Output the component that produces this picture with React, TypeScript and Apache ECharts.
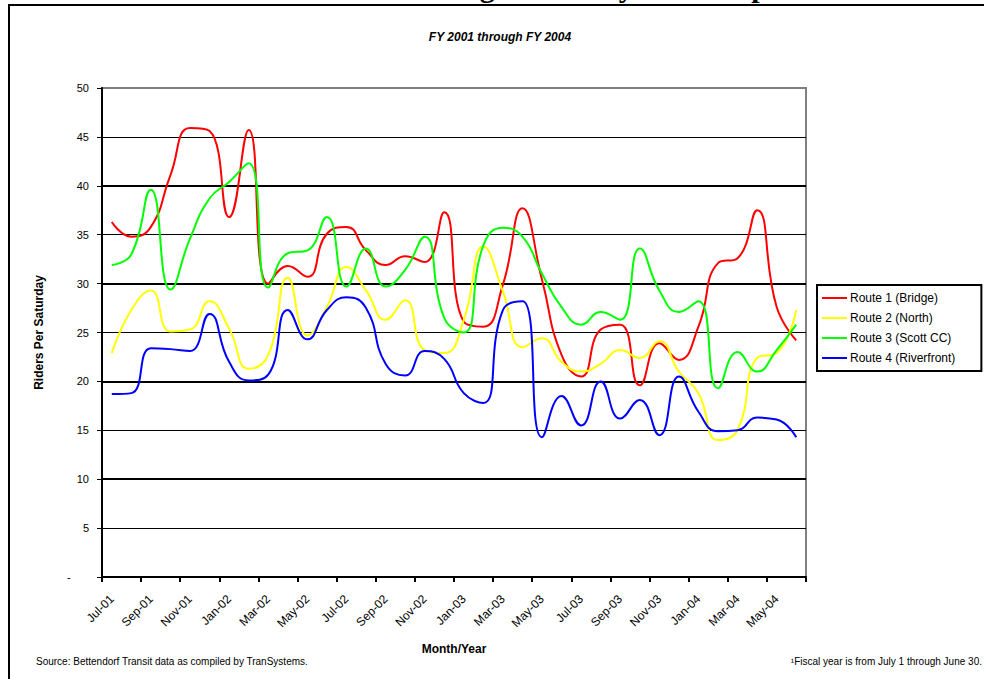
import React, { useEffect, useRef } from "react";
import * as echarts from "echarts";

const months: string[] = [
  "Jul-01","Aug-01","Sep-01","Oct-01","Nov-01","Dec-01","Jan-02","Feb-02","Mar-02","Apr-02","May-02","Jun-02",
  "Jul-02","Aug-02","Sep-02","Oct-02","Nov-02","Dec-02","Jan-03","Feb-03","Mar-03","Apr-03","May-03","Jun-03",
  "Jul-03","Aug-03","Sep-03","Oct-03","Nov-03","Dec-03","Jan-04","Feb-04","Mar-04","Apr-04","May-04","Jun-04",
];

const route1: number[] = [36.3, 34.8, 35.8, 41.1, 45.9, 45.6, 36.8, 45.7, 30.0, 31.8, 30.7, 35.1, 35.8, 33.4, 31.9, 32.8, 32.2, 37.3, 26.1, 25.6, 29.9, 37.7, 30.4, 22.7, 20.5, 25.3, 25.8, 19.6, 23.9, 22.2, 25.6, 32.1, 32.6, 37.5, 27.6, 24.2];
const route2: number[] = [22.9, 27.3, 29.3, 25.1, 25.3, 28.2, 25.4, 21.3, 22.7, 30.6, 24.7, 27.6, 31.7, 29.3, 26.3, 28.3, 23.2, 22.9, 26.3, 33.8, 29.2, 23.5, 24.4, 22.0, 21.0, 21.8, 23.2, 22.4, 24.1, 21.0, 18.8, 14.0, 15.0, 22.4, 22.9, 27.3];
const route3: number[] = [31.9, 33.0, 39.6, 29.4, 34.6, 38.7, 40.4, 42.3, 29.6, 33.1, 33.4, 36.8, 29.7, 33.6, 29.7, 31.4, 34.8, 26.5, 25.0, 33.9, 35.7, 34.8, 31.0, 27.6, 25.8, 27.1, 26.3, 33.6, 29.3, 27.1, 28.2, 19.3, 23.0, 21.0, 23.2, 25.8];
const route4: number[] = [18.7, 18.8, 23.4, 23.3, 23.1, 26.9, 22.0, 20.1, 20.7, 27.3, 24.3, 27.3, 28.6, 27.5, 21.8, 20.6, 23.1, 22.3, 18.8, 17.8, 27.3, 28.2, 14.3, 18.5, 15.5, 20.0, 16.2, 18.1, 14.5, 20.5, 16.9, 14.9, 15.0, 16.3, 16.1, 14.3];

const seriesNames: string[] = ["Route 1 (Bridge)", "Route 2 (North)", "Route 3 (Scott CC)", "Route 4 (Riverfront)"];
const seriesColors: string[] = ["#FF0000", "#FFFF00", "#00FF00", "#0000FF"];

const FONT = "Arial, 'Liberation Sans', sans-serif";

export default function App() {
  const ref = useRef<HTMLDivElement>(null);
  useEffect(() => {
    if (!ref.current) return;
    const chart = echarts.init(ref.current, undefined, { renderer: "svg" });
    const data = [route1, route2, route3, route4];
    chart.setOption({
      animation: false,
      backgroundColor: "#ffffff",
      textStyle: { fontFamily: FONT },
      graphic: [
        {
          type: "rect",
          shape: { x: 9, y: 5, width: 1000, height: 700 },
          style: { fill: "none", stroke: "#000", lineWidth: 2 },
          z: 0,
        },
        {
          type: "text",
          x: 505,
          y: 1,
          style: {
            text: "Fixed Route Average Saturday Ridership",
            font: "bold 30px 'Liberation Serif', 'Times New Roman', serif",
            fill: "#000",
            textAlign: "center",
            textVerticalAlign: "bottom",
          },
        },
        {
          type: "text",
          x: 500,
          y: 37,
          style: {
            text: "FY 2001 through FY 2004",
            font: `italic bold 12px ${FONT}`,
            fill: "#000",
            textAlign: "center",
            textVerticalAlign: "middle",
          },
        },
        {
          type: "text",
          x: 36,
          y: 661,
          style: {
            text: "Source: Bettendorf Transit data as compiled by TranSystems.",
            font: `10px ${FONT}`,
            fill: "#000",
            textAlign: "left",
            textVerticalAlign: "middle",
          },
        },
        {
          type: "text",
          x: 982,
          y: 661,
          style: {
            text: "\u00B9Fiscal year is from July 1 through June 30.",
            font: `10px ${FONT}`,
            fill: "#000",
            textAlign: "right",
            textVerticalAlign: "middle",
          },
        },
      ],
      legend: {
        orient: "vertical",
        left: 817,
        top: 285,
        data: seriesNames,
        icon: "rect",
        itemWidth: 25,
        itemHeight: 2,
        itemGap: 8,
        padding: [7, 26, 7, 5],
        borderColor: "#000",
        borderWidth: 2,
        backgroundColor: "#fff",
        textStyle: { fontFamily: FONT, fontSize: 12, color: "#000", padding: [0, 0, 0, -2] },
      },
      grid: {
        left: 102,
        right: 178,
        top: 88,
        bottom: 102,
        show: true,
        borderColor: "#808080",
        borderWidth: 2,
        backgroundColor: "transparent",
      },
      xAxis: {
        type: "category",
        data: months,
        boundaryGap: true,
        name: "Month/Year",
        nameLocation: "middle",
        nameGap: 66,
        nameTextStyle: { fontFamily: FONT, fontSize: 12, fontWeight: "bold", color: "#000" },
        axisLine: { show: true, lineStyle: { color: "#000", width: 2 } },
        axisTick: { show: true, interval: 1, length: 5, lineStyle: { color: "#000", width: 2 } },
        axisLabel: { interval: 1, rotate: 45, margin: 20, fontSize: 12, color: "#000", fontFamily: FONT },
        splitLine: { show: false },
      },
      yAxis: [
        {
          type: "value",
          min: 0,
          max: 50,
          interval: 5,
          name: "Riders Per Saturday",
          nameLocation: "middle",
          nameGap: 57,
          nameTextStyle: { fontFamily: FONT, fontSize: 12, fontWeight: "bold", color: "#000" },
          axisLine: { show: true, lineStyle: { color: "#000", width: 2 } },
          axisTick: { show: true, length: 5, lineStyle: { color: "#000", width: 1 } },
          axisLabel: {
            margin: 13,
            fontSize: 11,
            color: "#000",
            fontFamily: FONT,
            formatter: (v: number) => (v === 0 ? "-      " : String(v)),
          },
          splitLine: {
            show: true,
            lineStyle: {
              color: ["#000", "#000", "#000", "#000", "#000", "#000", "#000", "#000", "#000", "#000", "#808080"],
              width: 1,
            },
          },
        },
        {
          type: "value",
          min: 0,
          max: 50,
          interval: 10,
          position: "left",
          axisLine: { show: false },
          axisTick: { show: false },
          axisLabel: { show: false },
          splitLine: {
            show: true,
            lineStyle: {
              color: ["#000", "#000", "#000", "#000", "#000", "#808080"],
              width: 2,
            },
          },
        },
      ],
      series: data.map((d, i) => ({
        name: seriesNames[i],
        type: "line",
        data: d,
        yAxisIndex: 0,
        smooth: 0.5,
        showSymbol: false,
        symbol: "none",
        lineStyle: { color: seriesColors[i], width: 2 },
        itemStyle: { color: seriesColors[i] },
        z: 3,
      })),
    });
    return () => chart.dispose();
  }, []);
  return (
    <div
      ref={ref}
      style={{ position: "fixed", left: 0, top: 0, width: 984, height: 679 }}
    />
  );
}
